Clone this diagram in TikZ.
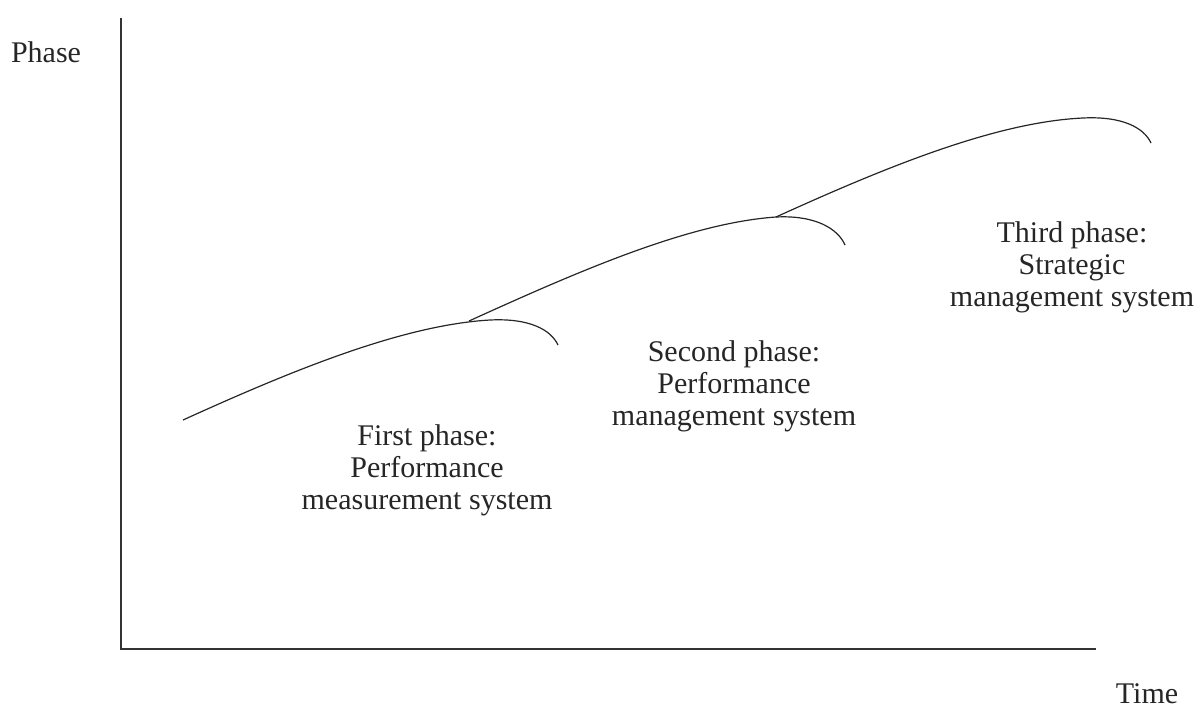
\documentclass[tikz,border=0pt]{standalone}
\usepackage{fontspec}
\setmainfont{Liberation Serif}
\begin{document}
\begin{tikzpicture}[x=1pt,y=-1pt,
  axis/.style={line width=1.6pt,draw=black!80},
  phasecurve/.style={line width=1.2pt,draw=black!85},
  lbl/.style={align=center,inner sep=0pt,font=\fontsize{30}{32}\selectfont,text=black!85}]
\useasboundingbox (0,0) rectangle (1196,710);
\coordinate (ytop) at (121,18);
\coordinate (origin) at (121,649);
\coordinate (xend) at (1096,649);
\draw[axis] (ytop) -- (origin) -- (xend);
\node[lbl] (phase) at (46,52) {Phase};
\node[lbl] (time) at (1147,694) {Time};
% curves
\coordinate (s1) at (183,420);
\coordinate (e1) at (558,345);
\coordinate (s2) at (469,321);
\coordinate (e2) at (845,245);
\coordinate (s3) at (776,217);
\coordinate (e3) at (1151,143);
\draw[phasecurve] (s1) .. controls (293,370) and (403,325) .. (490,320) .. controls (530,318) and (551,330) .. (e1);
\draw[phasecurve] (s2) .. controls (579,271) and (689,223) .. (776,217) .. controls (816,215) and (838,229) .. (e2);
\draw[phasecurve] (s3) .. controls (886,167) and (996,122) .. (1083,118) .. controls (1123,116) and (1144,128) .. (e3);
\node[lbl] (p1) at (427,470) {First phase:\\Performance\\measurement system};
\node[lbl] (p2) at (734,386) {Second phase:\\Performance\\management system};
\node[lbl] (p3) at (1072,267) {Third phase:\\Strategic\\management system};
\end{tikzpicture}
\end{document}
